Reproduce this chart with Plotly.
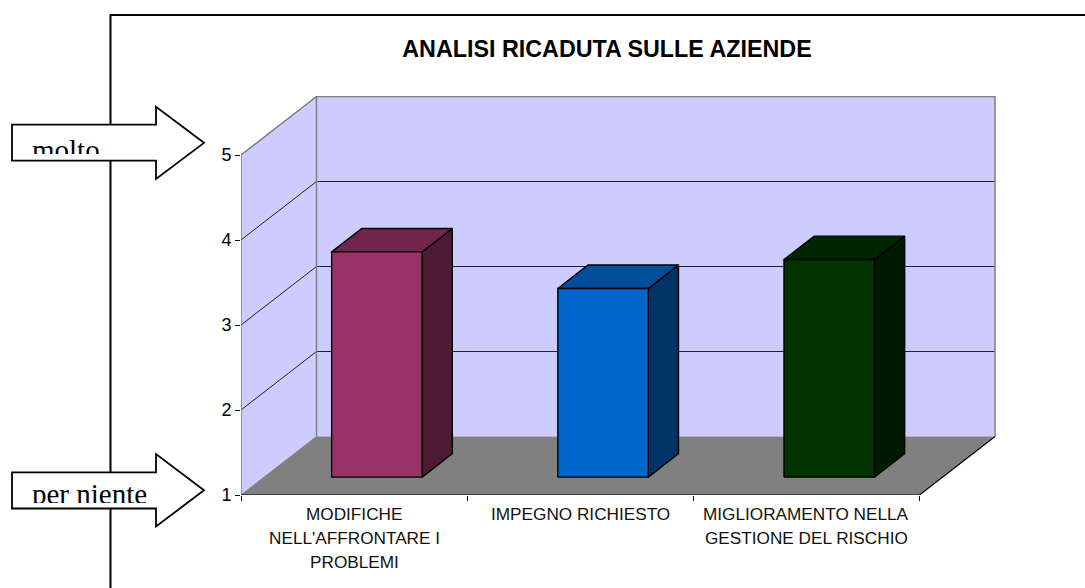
import plotly.graph_objects as go

# ---- data ----
categories = [["MODIFICHE", "NELL'AFFRONTARE I", "PROBLEMI"],
              ["IMPEGNO RICHIESTO"],
              ["MIGLIORAMENTO NELLA", "GESTIONE DEL RISCHIO"]]
values = [3.65, 3.22, 3.56]
front_colors = ["#993366", "#0066CC", "#003300"]
top_colors = ["#73264D", "#004D99", "#002600"]
side_colors = ["#4D1A33", "#003366", "#001A00"]
y_ticks = [1, 2, 3, 4, 5]
title_text = "ANALISI RICADUTA SULLE AZIENDE"
arrow_labels = ["molto", "per niente"]

W, H = 1085, 588
L, R, T, B = 241, 996, 96, 495      # plot-area pixel box
CAT_PX, UNIT_PX = 226.17, 85.0      # px per category, px per value unit
DX, DY = 75.5 / CAT_PX, 58.5 / UNIT_PX  # oblique offset of full depth, in axis units


def proj(x, v, d):
    """Oblique projection of (category pos, value, depth 0..1) to axis coords."""
    return x + d * DX, v + d * DY


def poly(points, fill, line="rgba(0,0,0,0)", width=0):
    xy = [proj(*p) for p in points]
    xy.append(xy[0])
    return go.Scatter(x=[a for a, _ in xy], y=[b for _, b in xy], mode="lines", fill="toself",
                      fillcolor=fill, line=dict(color=line, width=width), hoverinfo="skip",
                      showlegend=False)


def seg(points, color, width=1):
    xy = [proj(*p) for p in points]
    return go.Scatter(x=[a for a, _ in xy], y=[b for _, b in xy], mode="lines",
                      line=dict(color=color, width=width), hoverinfo="skip", showlegend=False)


fig = go.Figure()
n = len(values)
vmin, vmax = y_ticks[0], y_ticks[-1]
WALL, FLOOR, FRAME = "#CCCCFF", "#808080", "#808080"

# walls and floor
fig.add_trace(poly([(0, vmin, 0), (0, vmax, 0), (0, vmax, 1), (0, vmin, 1)], WALL))
fig.add_trace(poly([(0, vmin, 1), (0, vmax, 1), (n, vmax, 1), (n, vmin, 1)], WALL))
fig.add_trace(poly([(0, vmin, 0), (0, vmin, 1), (n, vmin, 1), (n, vmin, 0)], FLOOR))

# gridlines
for t in y_ticks[1:-1]:
    fig.add_trace(seg([(0, t, 0), (0, t, 1), (n, t, 1)], "#222222", 1))

# wall frame and axes
fig.add_trace(seg([(0, vmin, 0), (0, vmax, 0), (0, vmax, 1), (n, vmax, 1), (n, vmin, 1)], FRAME, 1.5))
fig.add_trace(seg([(0, vmin, 1), (0, vmax, 1)], FRAME, 1.5))
fig.add_trace(seg([(0, vmin, 0), (0, vmin, 1)], FRAME, 1))
fig.add_trace(seg([(0, vmin, 0), (n, vmin, 0), (n, vmin, 1)], "#000000", 1.2))

# bars
HALF, D0, D1 = 0.2, 0.305, 0.705
for i, v in enumerate(values):
    c = i + 0.499
    a, b = c - HALF, c + HALF
    fig.add_trace(poly([(b, vmin, D0), (b, vmin, D1), (b, v, D1), (b, v, D0)], side_colors[i], "#000000", 1.4))
    fig.add_trace(poly([(a, v, D0), (a, v, D1), (b, v, D1), (b, v, D0)], top_colors[i], "#000000", 1.4))
    fig.add_trace(poly([(a, vmin, D0), (a, v, D0), (b, v, D0), (b, vmin, D0)], front_colors[i], "#000000", 1.4))


# ---- decorations in pixel coordinates ----
def px(p):
    return (p - L) / (R - L)


def py(p):
    return (B - p) / (B - T)


def arrow_path(x0, y_top, y_bot, xh, y_ht, y_hb, xt):
    ym = (y_ht + y_hb) / 2
    pts = [(x0, y_top), (xh, y_top), (xh, y_ht), (xt, ym), (xh, y_hb), (xh, y_bot), (x0, y_bot)]
    return "M " + " L ".join(f"{px(a):.5f},{py(b):.5f}" for a, b in pts) + " Z"


shapes = [
    dict(type="path", xref="paper", yref="paper", layer="below", line=dict(color="black", width=2),
         path=f"M {px(110.5):.5f},{py(H + 5):.5f} L {px(110.5):.5f},{py(15):.5f} L {px(W + 5):.5f},{py(15):.5f}"),
]
for yt, yb, yht, yhb in [(124.7, 160.7, 106.7, 179), (472.3, 508.5, 454, 526.5)]:
    shapes.append(dict(type="path", xref="paper", yref="paper", layer="below", fillcolor="white",
                       line=dict(color="black", width=1.8),
                       path=arrow_path(12, yt, yb, 156, yht, yhb, 204)))

annotations = []
# arrow labels: the explicit box height cuts off the bottom of the text, as in the reference
for txt, top, h in zip(arrow_labels, (134, 478), (20, 25)):
    annotations.append(dict(x=px(32), xref="paper", y=py(top), yref="paper", xanchor="left", yanchor="top",
                            text=txt, showarrow=False, height=h, width=135, align="left", valign="top",
                            borderpad=0, borderwidth=0,
                            font=dict(family="Liberation Serif", size=29, color="black")))

# category labels, one annotation per line (24 px pitch)
for i, lines in enumerate(categories):
    for j, txt in enumerate(lines):
        annotations.append(dict(x=i + 0.5, xref="x", y=0, yref="paper", yanchor="middle", xanchor="center",
                                yshift=-(514 + 24 * j - B), text=txt, showarrow=False,
                                font=dict(family="Liberation Sans", size=17.2, color="#111111")))

fig.update_layout(
    width=W, height=H, autosize=False,
    margin=dict(l=L, r=W - R, t=T, b=H - B, pad=0),
    paper_bgcolor="white", plot_bgcolor="rgba(0,0,0,0)",
    showlegend=False, shapes=shapes, annotations=annotations,
    title=dict(text=f"<b>{title_text}</b>", x=607 / W, xanchor="center", y=1 - 49 / H, yanchor="middle",
               font=dict(family="Liberation Sans", size=23.3, color="black")),
    xaxis=dict(range=[0, (R - L) / CAT_PX], tickvals=list(range(n + 1)), showticklabels=False, ticks="outside",
               ticklen=5, tickcolor="black", showgrid=False, zeroline=False, showline=False, fixedrange=True),
    yaxis=dict(range=[1, 1 + (B - T) / UNIT_PX], tickvals=y_ticks, ticks="outside", ticklen=5, tickcolor="black",
               tickfont=dict(family="Liberation Sans", size=18, color="black"),
               showgrid=False, zeroline=False, showline=False, fixedrange=True),
)

fig.write_html("out.html", config=dict(displayModeBar=False),
               post_script="document.body.style.margin='0';document.body.style.overflow='hidden';")
